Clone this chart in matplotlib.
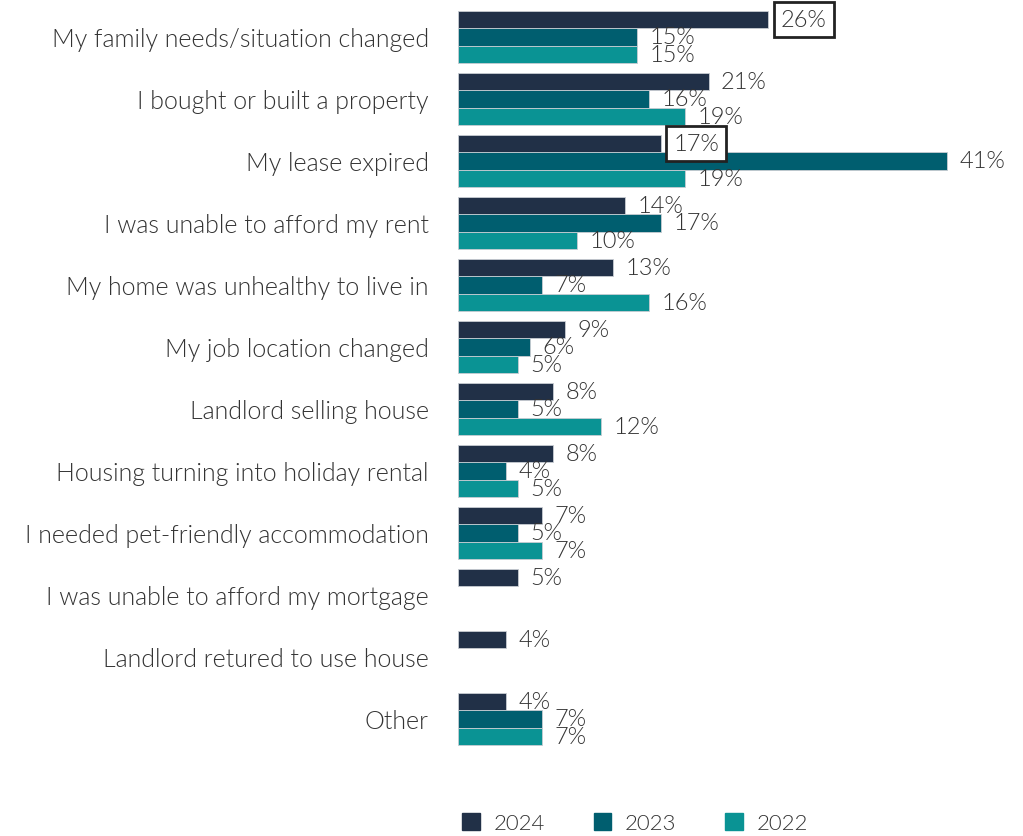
import numpy as np
import matplotlib.pyplot as plt
from matplotlib.patches import Patch

categories = [
    "My family needs/situation changed",
    "I bought or built a property",
    "My lease expired",
    "I was unable to afford my rent",
    "My home was unhealthy to live in",
    "My job location changed",
    "Landlord selling house",
    "Housing turning into holiday rental",
    "I needed pet-friendly accommodation",
    "I was unable to afford my mortgage",
    "Landlord retured to use house",
    "Other",
]
years = ["2024", "2023", "2022"]
v2024 = [26, 21, 17, 14, 13, 9, 8, 8, 7, 5, 4, 4]
v2023 = [15, 16, 41, 17, 7, 6, 5, 4, 5, None, None, 7]
v2022 = [15, 19, 19, 10, 16, 5, 12, 5, 7, None, None, 7]
boxed = [(0, 0), (0, 2)]  # (series index, category index) labels drawn with a box

colors = ["#213047", "#005e6f", "#0a9394"]
text_color = "#333333"

plt.rcParams['font.family'] = ['Lato', 'DejaVu Sans']

fig = plt.figure(figsize=(10.23, 8.37), dpi=100)
ax = fig.add_axes([458 / 1023, (837 - 751) / 837, 537 / 1023, 744 / 837])

y = np.arange(len(categories))
h = 0.283
series = [v2024, v2023, v2022]
for s, vals in enumerate(series):
    offs = (s - 1) * h
    for i, v in enumerate(vals):
        if v is None:
            continue
        ax.barh(y[i] + offs, v, height=h, color=colors[s],
                edgecolor="#c8ccd2", linewidth=0.6)
        kw = {}
        if (s, i) in boxed:
            kw["bbox"] = dict(boxstyle="square,pad=0.3", fc="white",
                              ec="#222222", lw=2)
        ax.annotate(f"{v}%", (v, y[i] + offs), xytext=(9, 0),
                    textcoords="offset points", ha="left", va="center",
                    fontsize=17, color=text_color, fontweight=300, **kw)

ax.set_xlim(0, 45)
ax.set_ylim(len(categories) - 0.5, -0.5)
ax.set_yticks(y)
ax.set_yticklabels(categories, fontsize=18, color=text_color, fontweight=300)
ax.tick_params(axis="y", length=0, pad=21)
ax.set_xticks([])
for sp in ax.spines.values():
    sp.set_visible(False)

handles = [Patch(color=c) for c in colors]
fig.legend(handles, years, loc="center", bbox_to_anchor=(635 / 1023, 1 - 824 / 837),
           ncol=3, frameon=False, handlelength=0.8, handleheight=0.8,
           columnspacing=2.2, handletextpad=0.6, labelcolor=text_color,
           prop={"family": ["Lato", "DejaVu Sans"], "weight": 300, "size": 16})

fig.savefig("out.png", dpi=100)
